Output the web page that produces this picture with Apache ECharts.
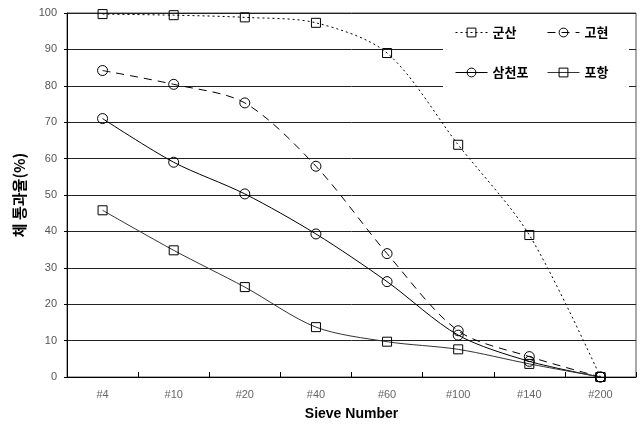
<!DOCTYPE html>
<html><head><meta charset="utf-8">
<script src="https://cdn.jsdelivr.net/npm/echarts@6/dist/echarts.min.js"></script>
<style>html,body{margin:0;padding:0;background:#fff}#c{width:640px;height:426px}</style>
</head><body><div id="c"></div>
<script>
const categories = ['#4','#10','#20','#40','#60','#100','#140','#200'];
const gunsan = [99.7, 99.4, 98.8, 97.3, 89.0, 63.8, 39.0, 0];
const gohyeon = [84.2, 80.4, 75.3, 57.9, 33.9, 12.7, 5.6, 0];
const samcheonpo = [71.0, 59.0, 50.3, 39.3, 26.2, 11.5, 4.3, 0];
const pohang = [45.8, 34.8, 24.7, 13.7, 9.7, 7.6, 3.6, 0];
const yTicks = [0,10,20,30,40,50,60,70,80,90,100];

const KF = "'Noto Sans CJK KR', sans-serif";
const LF = "'Liberation Sans', Arial, sans-serif";
const mk = (name, data, symbol, lineType, color, width) => ({
  name, type: 'line', data, smooth: 0.3, symbol, symbolSize: symbol === 'rect' ? 9 : 10,
  lineStyle: { color, width, type: lineType },
  itemStyle: { color: 'rgba(255,255,255,0)', borderColor: '#000', borderWidth: 1 },
  emphasis: { disabled: true }, z: 3
});
const legendCommon = {
  orient: 'vertical', top: 21, itemGap: 27, itemWidth: 32, itemHeight: 11, itemStyle: { borderWidth: 1 },
  lineStyle: { width: 1 },
  textStyle: { fontFamily: KF, fontWeight: 'bold', fontSize: 13, color: '#000', padding: [0, 0, 0, 0] }, z: 4
};
const chart = echarts.init(document.getElementById('c'), null, { renderer: 'canvas' });
chart.setOption({
  animation: false,
  backgroundColor: '#fff',
  grid: { left: 67, right: 4, top: 13, bottom: 48, show: true, borderColor: '#555', borderWidth: 1 },
  graphic: [{ type: 'rect', shape: { x: 443, y: 22, width: 186, height: 86 }, style: { fill: '#fff' }, z: 1 }],
  legend: [
    Object.assign({ data: ['군산', '삼천포'], left: 450 }, legendCommon),
    Object.assign({ data: ['고현', '포항'], left: 542 }, legendCommon)
  ],
  xAxis: {
    type: 'category', data: categories, boundaryGap: true,
    name: 'Sieve Number', nameLocation: 'middle', nameGap: 30,
    nameTextStyle: { fontFamily: LF, fontSize: 14, fontWeight: 'bold', color: '#000' },
    axisLine: { lineStyle: { color: '#000', width: 1 } },
    axisTick: { show: true, inside: true, length: 5, lineStyle: { color: '#000' } },
    axisLabel: { fontFamily: LF, fontSize: 11, color: '#666', margin: 12 },
    splitLine: { show: false }
  },
  yAxis: {
    type: 'value', min: 0, max: 100, interval: 10,
    name: '체 통과율(%)', nameLocation: 'middle', nameGap: 40, nameRotate: 90,
    nameTextStyle: { fontFamily: KF, fontWeight: 'bold', fontSize: 15, color: '#000' },
    axisLine: { show: true, lineStyle: { color: '#000', width: 1 } },
    axisTick: { show: true, length: 3, lineStyle: { color: '#000' } },
    axisLabel: { fontFamily: LF, fontSize: 11, color: '#555', margin: 10,
      formatter: v => yTicks.includes(v) ? String(v) : '' },
    splitLine: { show: true, lineStyle: { color: '#222', width: 1 } }
  },
  series: [
    mk('군산', gunsan, 'rect', [2, 3], '#000', 1),
    mk('고현', gohyeon, 'circle', [8, 6], '#000', 1),
    mk('삼천포', samcheonpo, 'circle', 'solid', '#000', 1),
    mk('포항', pohang, 'rect', 'solid', '#333', 1)
  ]
});
</script></body></html>
